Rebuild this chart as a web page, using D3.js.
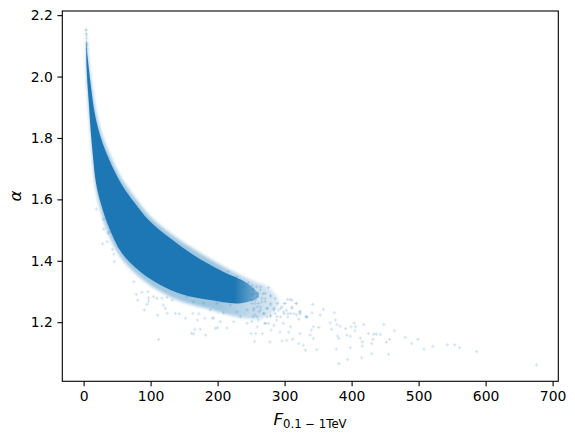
<!DOCTYPE html>
<html><head><meta charset="utf-8">
<script src="https://cdn.jsdelivr.net/npm/d3@7"></script>
<style>html,body{margin:0;background:#fff}svg{display:block}</style></head>
<body><svg id="c" width="575" height="439"></svg>
<script>
const xTicks=[0,100,200,300,400,500,600,700];
const yTicks=[1.2,1.4,1.6,1.8,2.0,2.2];
// saturated core of the cloud: outline
const coreFlux=[4.5,5.1,7.5,11,14.9,20.9,28.4,36.4,44.8,57.3,74.6,97,129.4,164,208.5,244,262,235,189,149,114.5,84.6,57,37.5,25.5,18.5,14,10.5,7.5,5.1,4];
const coreAlpha=[2.12,2.087,2.032,1.967,1.902,1.837,1.783,1.739,1.698,1.647,1.593,1.533,1.473,1.419,1.364,1.327,1.285,1.262,1.272,1.289,1.321,1.364,1.425,1.511,1.588,1.653,1.739,1.826,1.924,2.0,2.065];
// fuzzy rim of the cloud
const rimFlux=[4.5,6,8.5,12.5,17,23.5,31,39.5,48,61,78.5,101,134,170,214,252,278,292,270,235,210,189,149,114.5,82,55,34.5,23.5,17,13,10,6.5,4.3,3.4];
const rimAlpha=[2.13,2.09,2.035,1.97,1.905,1.84,1.788,1.745,1.703,1.653,1.6,1.541,1.482,1.43,1.375,1.335,1.31,1.26,1.215,1.215,1.228,1.242,1.265,1.3,1.35,1.412,1.5,1.58,1.65,1.74,1.826,1.925,2.0,2.07];
// individually visible points
const sparseFlux=[676,586.6,561,553.7,543,521,508,499,489.6,480,464,456.7,452,455,448,443,437,433,432,430,430,425,418,416,416,413,415,406,404,405,399,398,398,394,393,391,383,378,376,374,368,370,379,381,377,381,358,353,351,348,342,341,343,340,338,343,331,328,323,321,332,323,317,311,308,305,
112,78.6,87,80.6,96,97,94.6,90.6,110.5,119,122,125,137,143,152,163,170,166,174,161,164,182,197,200,181,192,172,104.5,109.5,117,124.5,132,
19,30,28.4,35,43,45,30,36.4,39,52,46,75,97,
258,264,276,268,279,286,299,304,311,318,311,323,333,321,299,305,294,279,269,259,267,257,278,296,303,312,280,293,306,309,255,250,271,284,298,288,276,259,264,274,284,291,254,271,259,254,266,279,256,262,274,286,296,303,314,251,
204,194,214,224,234,244,253,209,229,244,189,259,261,246,229,216,253,238,251,219,199,179,164,154,
251,256,261,254,259,266,271,264,274,279,284,269,256,251,253,264,271,279,289,294,301,299,309,318,333,323,279,289,261,251,271,
3.6,3.8,4.2,4.4,4.6,3.9,4.8,5,5.2];
const sparseAlpha=[1.061,1.104,1.117,1.126,1.126,1.121,1.112,1.144,1.130,1.150,1.172,1.144,1.135,1.095,1.192,1.160,1.161,1.161,1.144,1.130,1.097,1.163,1.192,1.136,1.122,1.148,1.084,1.185,1.197,1.172,1.185,1.154,1.117,1.078,1.158,1.179,1.187,1.192,1.207,1.231,1.198,1.177,1.155,1.147,1.112,1.065,1.242,1.223,1.183,1.111,1.258,1.230,1.185,1.174,1.158,1.147,1.109,1.125,1.163,1.130,1.217,1.228,1.261,1.250,1.274,1.228,
1.144,1.291,1.297,1.272,1.299,1.269,1.258,1.240,1.223,1.256,1.245,1.229,1.229,1.227,1.213,1.229,1.207,1.177,1.177,1.164,1.162,1.158,1.180,1.182,1.213,1.213,1.227,1.283,1.278,1.278,1.281,1.272,
1.568,1.535,1.455,1.462,1.437,1.422,1.503,1.49,1.495,1.446,1.397,1.332,1.279,
1.315,1.315,1.313,1.293,1.288,1.277,1.261,1.274,1.272,1.261,1.245,1.234,1.217,1.210,1.228,1.217,1.217,1.223,1.228,1.217,1.163,1.163,1.136,1.139,1.141,1.144,1.174,1.168,1.168,1.185,1.138,1.163,1.196,1.190,1.196,1.207,1.196,1.185,1.250,1.245,1.245,1.239,1.239,1.277,1.283,1.293,1.266,1.261,1.261,1.234,1.217,1.228,1.250,1.239,1.228,1.32,
1.202,1.214,1.181,1.202,1.218,1.197,1.218,1.230,1.234,1.240,1.240,1.25,1.295,1.329,1.348,1.365,1.311,1.315,1.272,1.256,1.262,1.262,1.267,1.283,
1.261,1.272,1.261,1.245,1.294,1.278,1.267,1.240,1.245,1.256,1.240,1.229,1.224,1.289,1.305,1.305,1.294,1.283,1.261,1.245,1.261,1.234,1.229,1.224,1.218,1.234,1.218,1.218,1.207,1.202,1.196,
2.154,2.15,2.14,2.125,2.11,2.135,2.105,2.1,2.09];

const L=62.3,R=558.3,T=11,B=381.3;
const x=d3.scaleLinear().domain([-31.8,708.5]).range([L,R]);
const y=d3.scaleLinear().domain([1.0075,2.2135]).range([B,T]);
const C="#1f77b4";
const svg=d3.select("#c");
const defs=svg.append("defs");
[["soft",1.5],["edge",.7]].forEach(([id,s])=>{
 defs.append("filter").attr("id",id).attr("x","-20%").attr("y","-20%").attr("width","140%").attr("height","140%")
  .append("feGaussianBlur").attr("stdDeviation",s);});
const fade=(id,stops)=>{const g=defs.append("linearGradient").attr("id",id)
  .attr("gradientUnits","userSpaceOnUse").attr("x1",x(0)).attr("x2",x(300)).attr("y1",0).attr("y2",0);
 stops.forEach(([f,o])=>g.append("stop").attr("offset",f/300).attr("stop-color",C).attr("stop-opacity",o));};
fade("coreFade",[[0,1],[225,1],[262,.4]]);
fade("rimFade",[[0,.4],[200,.42],[292,.14]]);
const outline=d3.line().x(d=>x(d[0])).y(d=>y(d[1])).curve(d3.curveCatmullRomClosed.alpha(.5));
svg.append("path").attr("d",outline(d3.zip(rimFlux,rimAlpha))).attr("fill","url(#rimFade)").attr("filter","url(#soft)");
svg.append("path").attr("d",outline(d3.zip(coreFlux,coreAlpha))).attr("fill","url(#coreFade)").attr("filter","url(#edge)");
const sym=d3.symbol().type(d3.symbolCross).size(6)();
svg.append("g").selectAll("path").data(d3.zip(sparseFlux,sparseAlpha)).join("path")
 .attr("d",sym).attr("transform",d=>`translate(${x(d[0])},${y(d[1])})`)
 .attr("fill",C).attr("opacity",.2);
svg.append("rect").attr("x",L).attr("y",T).attr("width",R-L).attr("height",B-T)
 .attr("fill","none").attr("stroke","#000").attr("stroke-width",1.1);
const fmt=d=>d.toFixed(1);
const ax=svg.append("g").attr("transform",`translate(0,${B})`)
 .call(d3.axisBottom(x).tickValues(xTicks).tickFormat(d3.format("d")).tickSize(4.9).tickPadding(4.6));
const ay=svg.append("g").attr("transform",`translate(${L},0)`)
 .call(d3.axisLeft(y).tickValues(yTicks).tickFormat(fmt).tickSize(4.9).tickPadding(4.6));
[ax,ay].forEach(g=>{g.select(".domain").remove();
 g.selectAll("line").attr("stroke","#000").attr("stroke-width",1.1);
 g.selectAll("text").attr("fill","#000").style("font","13.9px 'DejaVu Sans'");});
const xl=svg.append("text").attr("x",310).attr("y",425).attr("text-anchor","middle")
 .style("font-family","'DejaVu Sans'").attr("fill","#000");
xl.append("tspan").text("F").style("font-size","16.7px").style("font-style","oblique");
xl.append("tspan").text("0.1 − 1TeV").attr("dy",2.5).style("font-size","11.7px");
svg.append("text").attr("transform","translate(21,196) rotate(-90)").attr("text-anchor","middle")
 .style("font","oblique 16.7px 'DejaVu Sans'").attr("fill","#000").text("α");
</script></body></html>
